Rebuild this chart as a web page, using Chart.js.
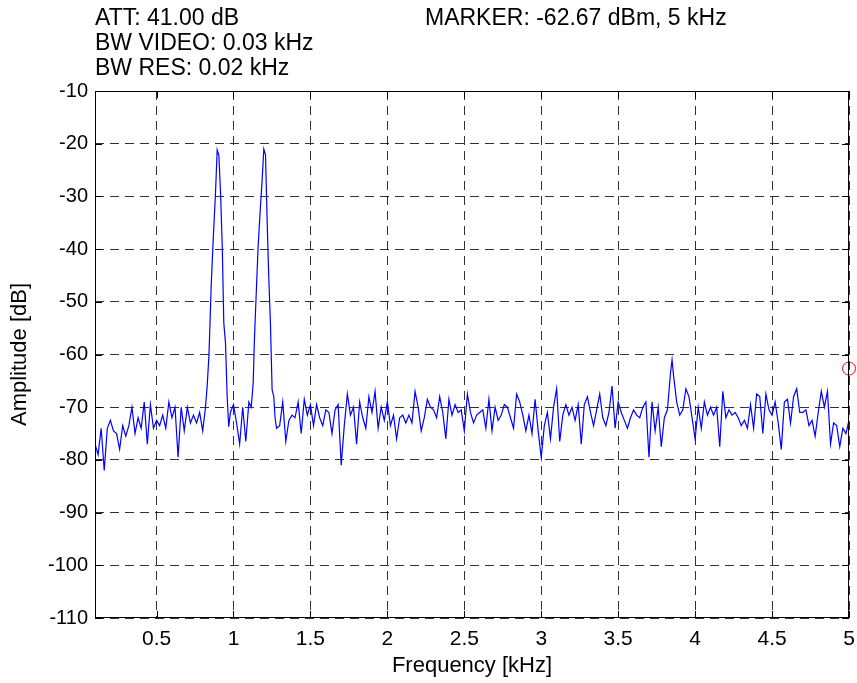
<!DOCTYPE html>
<html>
<head>
<meta charset="utf-8">
<script src="https://cdn.jsdelivr.net/npm/chart.js@4.4.1/dist/chart.umd.min.js"></script>
<style>
  html, body { margin: 0; padding: 0; background: #fff; }
  canvas { display: block; }
</style>
</head>
<body>
<canvas id="spectrum" width="857" height="683"></canvas>
<script>
'use strict';

// frequency of each trace point, kHz
const freqKHz = [
  0.10, 0.12, 0.14, 0.16, 0.18, 0.20, 0.22, 0.24, 0.26, 0.28,
  0.30, 0.32, 0.34, 0.36, 0.38, 0.40, 0.42, 0.44, 0.46, 0.48,
  0.50, 0.52, 0.54, 0.56, 0.58, 0.60, 0.62, 0.64, 0.66, 0.68,
  0.70, 0.72, 0.74, 0.76, 0.78, 0.80,
  0.818, 0.829, 0.840, 0.846, 0.855, 0.868, 0.883, 0.894, 0.905, 0.916,
  0.927, 0.937, 0.948, 0.959, 0.969,
  0.98, 1.00, 1.02, 1.04, 1.06, 1.08, 1.10, 1.115,
  1.121, 1.128, 1.136, 1.147, 1.160, 1.175, 1.186, 1.197, 1.208, 1.219,
  1.229, 1.240, 1.251, 1.262,
  1.27, 1.28, 1.30, 1.32, 1.34, 1.36, 1.38, 1.40, 1.42, 1.44,
  1.46, 1.48, 1.50, 1.52, 1.54, 1.56, 1.58, 1.60, 1.62, 1.64,
  1.66, 1.68, 1.70, 1.72, 1.74, 1.76,
  1.78, 1.80, 1.82, 1.84, 1.86, 1.88, 1.90, 1.92, 1.94, 1.96,
  1.98, 2.00, 2.02, 2.04, 2.06, 2.08, 2.10, 2.12, 2.14, 2.16,
  2.18, 2.20, 2.22, 2.24, 2.26, 2.28, 2.30, 2.32, 2.34, 2.36,
  2.38, 2.40, 2.42, 2.44, 2.46, 2.48, 2.50, 2.52, 2.54, 2.56,
  2.58, 2.60,
  2.62, 2.64, 2.66, 2.68, 2.70, 2.72, 2.74, 2.76, 2.78, 2.80,
  2.82, 2.84, 2.86, 2.88, 2.90, 2.92, 2.94, 2.96, 2.98, 3.00,
  3.02, 3.04, 3.06, 3.08, 3.10, 3.12, 3.14, 3.16, 3.18, 3.20,
  3.22, 3.24, 3.26, 3.28, 3.30, 3.32, 3.34, 3.36, 3.38, 3.40,
  3.42, 3.44,
  3.46, 3.48, 3.50, 3.52, 3.54, 3.56, 3.58, 3.60, 3.62, 3.64,
  3.66, 3.68, 3.70, 3.72, 3.74, 3.76, 3.78, 3.80, 3.82, 3.84,
  3.85, 3.86, 3.88, 3.90, 3.92, 3.94, 3.96, 3.98, 4.00, 4.02,
  4.04, 4.06, 4.08, 4.10, 4.12, 4.14, 4.16, 4.18, 4.20, 4.22,
  4.24, 4.26,
  4.28, 4.30, 4.32, 4.34, 4.36, 4.38, 4.40, 4.42, 4.44, 4.46,
  4.48, 4.50, 4.52, 4.54, 4.56, 4.58, 4.60, 4.62, 4.64, 4.66,
  4.68, 4.70, 4.72, 4.74, 4.76, 4.78, 4.80, 4.82, 4.84, 4.86,
  4.88, 4.90, 4.92, 4.94, 4.96, 4.98, 5.00
];

// measured amplitude at each frequency, dB
const amplitudeDb = [
  -77, -79, -74, -82, -74, -72.5, -74.5, -75, -78, -73.5,
  -75.5, -73.5, -70, -75, -72, -74, -69, -77, -69.5, -74,
  -72.5, -73.5, -71.5, -74, -69, -72, -70, -79.5, -70, -74.5,
  -70, -73, -71.5, -73, -71, -74.5,
  -70, -66, -60.4, -55.4, -47, -38.3, -29.4, -21.2, -22.2, -29.4,
  -39.5, -54, -57.8, -68, -73.7,
  -71, -69.5, -73, -77, -70, -76.5, -69, -70,
  -68, -65.4, -57.2, -49, -39.5, -32, -27, -21, -22.1, -35,
  -45.2, -54, -66.7, -68,
  -72, -74, -73.5, -69, -76.5, -72.5, -71.5, -72, -69, -75,
  -68.5, -71.5, -69.5, -73.5, -69.5, -72, -73.5, -70.5, -71, -75,
  -70.5, -69.5, -81, -73.5, -67.5, -71.5,
  -70, -77, -69, -72, -74, -68, -71, -67, -74, -70,
  -72.5, -69, -73.5, -71.5, -76, -72, -71.5, -73, -71.5, -73,
  -67, -70, -74.5, -72, -68.5, -70, -70.5, -72, -68, -71,
  -76, -68.5, -71.5, -69.5, -71, -70.5, -74.5, -67.5, -71, -73,
  -71.5, -71,
  -70.5, -74, -68.5, -74.5, -70, -72.5, -71.5, -69.5, -70, -72,
  -74, -67.5, -69, -71.5, -74.5, -71.5, -75, -68.5, -74.5, -79.5,
  -73.5, -71, -76, -70, -66.5, -76.5, -71.5, -69.5, -71.5, -70,
  -72.5, -69.5, -77, -69.5, -68, -71, -73.5, -70.5, -67.5, -72,
  -73.5, -71,
  -66, -74, -69, -71, -72.5, -74, -72, -70.5, -71.5, -72,
  -70, -69, -79.5, -69, -74.5, -70, -77.5, -72, -70.5, -63.5,
  -61, -64, -69, -71.5, -70.5, -66.5, -68, -72, -76, -70,
  -74, -69, -71.5, -70, -71.5, -70, -77.5, -67, -72, -70.5,
  -71.5, -71,
  -72, -73.5, -72.5, -74, -69.5, -74, -67.5, -68, -75, -67.5,
  -70.5, -71.5, -69, -73, -78, -69, -68.5, -73, -68, -66.5,
  -71, -71, -70.5, -73.5, -72.5, -75.5, -71, -67, -70, -67,
  -77, -73, -73.5, -77.5, -74, -75, -72.5
];

const marker = { freq: 5, level: -62.67 };

const xTickValues = [0.5, 1, 1.5, 2, 2.5, 3, 3.5, 4, 4.5, 5];
const headerLines = ['ATT: 41.00 dB', 'BW VIDEO: 0.03 kHz', 'BW RES: 0.02 kHz'];
const markerText = 'MARKER: -62.67 dBm, 5 kHz';

const FONT = '"Liberation Sans", Arial, Helvetica, sans-serif';

Chart.defaults.font.family = FONT;
Chart.defaults.font.size = 20;
Chart.defaults.color = '#000';

const tracePoints = freqKHz.map((f, i) => ({ x: f, y: amplitudeDb[i] }));

// header texts, box and inward tick marks like the analyzer plot
const frameAndHeader = {
  id: 'frameAndHeader',
  afterDraw(chart) {
    const { ctx, chartArea: a, scales } = chart;
    ctx.save();

    ctx.strokeStyle = '#000';
    ctx.lineWidth = 1;
    ctx.strokeRect(a.left + 0.5, a.top + 0.5, a.right - a.left - 1, a.bottom - a.top - 1);

    const tl = 7;
    ctx.beginPath();
    scales.x.ticks.forEach(t => {
      const px = Math.round(scales.x.getPixelForValue(t.value)) + 0.5;
      ctx.moveTo(px, a.bottom); ctx.lineTo(px, a.bottom - tl);
      ctx.moveTo(px, a.top); ctx.lineTo(px, a.top + tl);
    });
    scales.y.ticks.forEach(t => {
      const py = Math.round(scales.y.getPixelForValue(t.value)) + 0.5;
      ctx.moveTo(a.left, py); ctx.lineTo(a.left + tl, py);
      ctx.moveTo(a.right, py); ctx.lineTo(a.right - tl, py);
    });
    ctx.stroke();

    ctx.fillStyle = '#000';
    ctx.font = '23px ' + FONT;
    ctx.textAlign = 'left';
    ctx.textBaseline = 'alphabetic';
    headerLines.forEach((line, i) => ctx.fillText(line, a.left, 25 + i * 25));
    ctx.fillText(markerText, 425, 25);

    ctx.restore();
  }
};

new Chart(document.getElementById('spectrum').getContext('2d'), {
  type: 'line',
  data: {
    datasets: [
      {
        label: 'Spectrum',
        data: tracePoints,
        borderColor: '#0000ff',
        borderWidth: 1.2,
        pointRadius: 0,
        tension: 0,
        fill: false
      },
      {
        label: 'Marker',
        data: [{ x: marker.freq, y: marker.level }],
        showLine: false,
        pointStyle: 'circle',
        pointRadius: 6.5,
        pointBorderWidth: 1,
        pointBorderColor: '#ff0000',
        pointBackgroundColor: 'rgba(0,0,0,0)',
        clip: false
      }
    ]
  },
  options: {
    responsive: false,
    animation: false,
    devicePixelRatio: 1,
    layout: { padding: { top: 91, right: 8, left: 0, bottom: 0 } },
    plugins: {
      legend: { display: false },
      tooltip: { enabled: false }
    },
    scales: {
      x: {
        type: 'linear',
        min: 0.1,
        max: 5,
        afterBuildTicks: scale => {
          scale.ticks = xTickValues.map(v => ({ value: v }));
        },
        afterFit: scale => {
          scale.height = 65;
          scale.paddingLeft = 0;
          scale.paddingRight = 0;
        },
        ticks: {
          padding: 9,
          maxRotation: 0,
          font: { size: 21 },
          callback: v => String(v)
        },
        grid: {
          color: 'rgba(0,0,0,0.8)',
          lineWidth: 1,
          drawTicks: false
        },
        border: { display: false, dash: [9, 6] },
        title: {
          display: true,
          text: 'Frequency [kHz]',
          font: { size: 22 },
          padding: { top: 0, bottom: 4 }
        }
      },
      y: {
        type: 'linear',
        min: -110,
        max: -10,
        ticks: {
          stepSize: 10,
          padding: 7,
          callback: v => String(v)
        },
        afterFit: scale => {
          scale.width = 95;
          scale.paddingTop = 0;
          scale.paddingBottom = 0;
        },
        grid: {
          color: 'rgba(0,0,0,0.8)',
          lineWidth: 1,
          drawTicks: false
        },
        border: { display: false, dash: [9, 6] },
        title: {
          display: true,
          text: 'Amplitude [dB]',
          font: { size: 22 },
          padding: { top: 7, bottom: 0 }
        }
      }
    }
  },
  plugins: [frameAndHeader]
});
</script>
</body>
</html>
